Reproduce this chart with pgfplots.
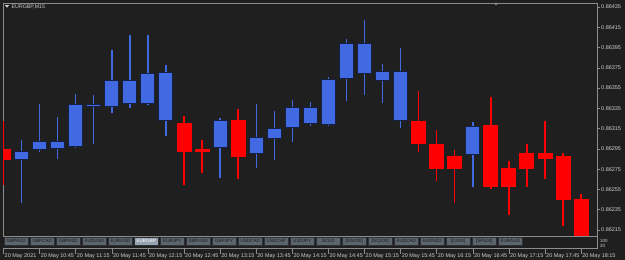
\documentclass[border=0pt]{standalone}
\usepackage{fontspec}
\setmainfont{Liberation Sans}
\usepackage{pgfplots}
\pgfplotsset{compat=1.18}
\usepackage{pgfplotstable}

\definecolor{bgc}{RGB}{31,31,31}
\definecolor{bull}{RGB}{65,105,225}
\definecolor{bear}{RGB}{255,0,0}
\definecolor{bulledge}{RGB}{22,32,66}
\definecolor{axc}{RGB}{140,140,140}
\definecolor{lbl}{RGB}{205,205,205}
\definecolor{tabc}{RGB}{92,100,108}
\definecolor{tabedge}{RGB}{45,48,52}
\definecolor{tabtxt}{RGB}{22,25,29}
\definecolor{tabsel}{RGB}{150,162,175}

\pgfplotstableread{
i o h l c
2 0.86284 0.86304 0.86242 0.86293
3 0.86294 0.86339 0.86292 0.86303
4 0.86295 0.86326 0.86285 0.86303
5 0.86297 0.86349 0.86296 0.86339
6 0.86336 0.86348 0.86300 0.86339
7 0.86336 0.86393 0.86330 0.86363
8 0.86339 0.86407 0.86335 0.86363
9 0.86339 0.86407 0.86338 0.86370
10 0.86323 0.86378 0.86308 0.86371
13 0.86296 0.86325 0.86266 0.86324
15 0.86290 0.86339 0.86276 0.86307
16 0.86305 0.86332 0.86284 0.86316
17 0.86316 0.86343 0.86302 0.86336
18 0.86320 0.86341 0.86318 0.86336
19 0.86319 0.86366 0.86318 0.86364
20 0.86364 0.86403 0.86342 0.86399
21 0.86369 0.86422 0.86348 0.86399
22 0.86362 0.86379 0.86340 0.86372
23 0.86323 0.86395 0.86316 0.86372
27 0.86289 0.86322 0.86257 0.86318
}\bulltab

\pgfplotstableread{
i o h l c
1 0.86295 0.86323 0.86259 0.86284
11 0.86321 0.86327 0.86259 0.86292
12 0.86295 0.86304 0.86271 0.86292
14 0.86324 0.86334 0.86265 0.86287
24 0.86323 0.86352 0.86292 0.86300
25 0.86300 0.86314 0.86263 0.86275
26 0.86288 0.86294 0.86242 0.86275
28 0.86319 0.86346 0.86255 0.86257
29 0.86276 0.86283 0.86230 0.86257
30 0.86291 0.86300 0.86257 0.86275
31 0.86291 0.86323 0.86265 0.86285
32 0.86288 0.86291 0.86219 0.86245
33 0.86246 0.86251 0.86190 0.86190
}\beartab

\begin{document}
\begin{tikzpicture}
\fill[bgc] (0,0) rectangle (625bp,260bp);
\begin{axis}[
  at={(3bp,12bp)}, anchor=south west,
  scale only axis, width=594bp, height=245bp,
  xmin=0.972, xmax=33.88, ymin=0.8619724, ymax=0.8643895,
  axis line style={draw=axc, line width=0.8bp},
  xtick={1,3,...,33},
  xticklabels={20 May 2021,20 May 10:45,20 May 11:15,20 May 11:45,20 May 12:15,20 May 12:45,20 May 13:15,20 May 13:45,20 May 14:15,20 May 14:45,20 May 15:15,20 May 15:45,20 May 16:15,20 May 16:45,20 May 17:15,20 May 17:45,20 May 18:15},
  ytick={0.86215,0.86235,0.86255,0.86275,0.86295,0.86315,0.86335,0.86355,0.86375,0.86395,0.86415,0.86435},
  yticklabels={0.86215,0.86235,0.86255,0.86275,0.86295,0.86315,0.86335,0.86355,0.86375,0.86395,0.86415,0.86435},
  xtick pos=bottom, ytick pos=right, yticklabel pos=right,
  tick align=outside,
  major tick length=3bp,
  tick style={draw=axc, line width=0.6bp},
  xtick style={/pgfplots/major tick length=6bp},
  /pgf/number format/assume math mode=true,
  tick label style={font=\fontsize{5.5}{6}\selectfont, text=lbl},
  xticklabel style={anchor=north west, inner sep=0pt, xshift=1bp, yshift=-2.5bp},
  yticklabel style={anchor=west, inner sep=0pt, xshift=1bp},
]
\addplot[bull, line width=1.4bp, quiver={u=0,v=\thisrow{h}-\thisrow{l}}, -] table[x=i,y=l]{\bulltab};
\addplot[bear, line width=1.4bp, quiver={u=0,v=\thisrow{h}-\thisrow{l}}, -] table[x=i,y=l]{\beartab};
\addplot[bulledge, line width=15bp, quiver={u=0,v=\thisrow{c}-\thisrow{o}}, -] table[x=i,y=o]{\bulltab};
\addplot[bull, line width=13bp, shorten <=1bp, shorten >=1bp, quiver={u=0,v=\thisrow{c}-\thisrow{o}}, -] table[x=i,y=o]{\bulltab};
\addplot[bear, line width=15bp, quiver={u=0,v=\thisrow{c}-\thisrow{o}}, -] table[x=i,y=o]{\beartab};
\end{axis}
\begin{scope}[x=1bp,y=1bp]
  \fill[lbl] (5,254.8) -- (9,254.8) -- (7,252.3) -- cycle;
  \node[anchor=west, inner sep=0pt, text=lbl, font=\fontsize{5.3}{6}\selectfont] at (11.5,253.4) {EURGBP,M15};
  \fill[axc] (493.5,257.2) -- (498.5,257.2) -- (496,254.7) -- cycle;
  \fill[bgc] (3.5,12.5) rectangle (596.5,24);
  \draw[axc, line width=0.6bp] (3,24) -- (597,24);
  \foreach \n [count=\k from 0] in {GBPAUD,GBPCAD,GBPNZD,AUDUSD,EURUSD,EURGBP,EURJPY,GBPUSD,GBPJPY,USDCAD,USDCHF,USDJPY,GOLD,{[DAX30]},{[NQ100]},AUDCAD,AUDNZD,{[DJI30]},{[SP500]},EURAUD}{
    \ifnum\k=5 \def\tabfillc{tabsel}\def\tabtextc{white}\else\def\tabfillc{tabc}\def\tabtextc{tabtxt}\fi
    \filldraw[fill=\tabfillc, draw=tabedge, line width=0.5bp] ({4+26*\k},15) rectangle ({28.5+26*\k},22.5);
    \node[text=\tabtextc, font=\fontsize{4.6}{5}\selectfont, inner sep=0pt] at ({16.25+26*\k},18.75) {\n};
  }
  \node[anchor=west, inner sep=0pt, text=lbl, font=\fontsize{4.5}{5}\selectfont] at (600,19.5) {100};
  \node[anchor=west, inner sep=0pt, text=lbl, font=\fontsize{4.5}{5}\selectfont] at (600,14.5) {20};
\end{scope}
\end{tikzpicture}
\end{document}
